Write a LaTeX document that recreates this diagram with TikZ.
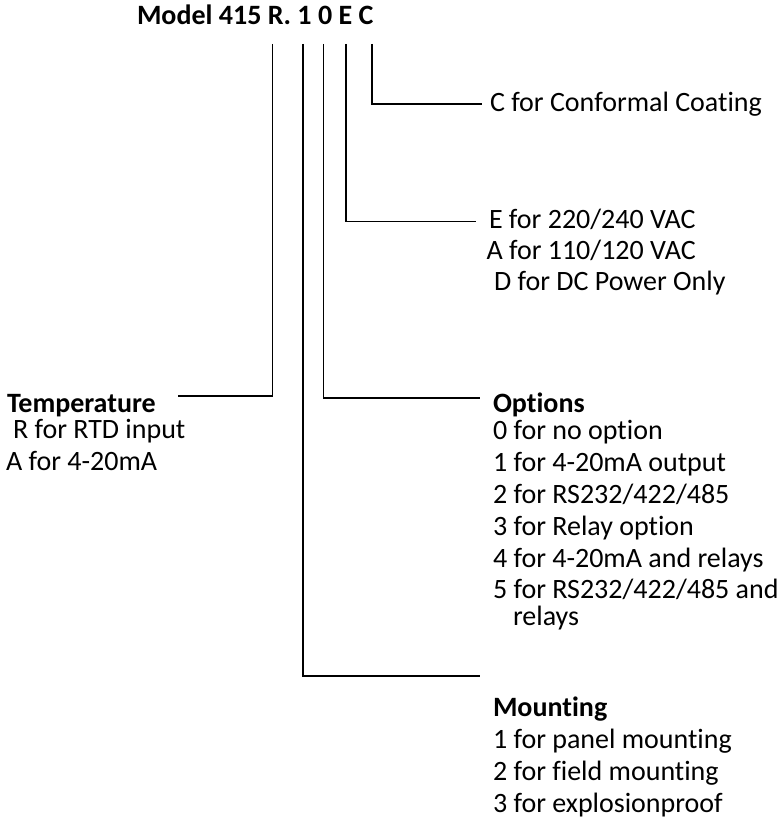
\documentclass[tikz,border=0pt]{standalone}
\usepackage{fontspec}
\setmainfont{Carlito}[Ligatures={NoCommon}]
\begin{document}
\begin{tikzpicture}[x=1pt,y=-1pt,
  txt/.style={anchor=base west,inner sep=0pt,outer sep=0pt,font=\fontsize{28}{32}\selectfont},
  hdr/.style={txt,font=\fontsize{28}{32}\selectfont\bfseries},
  conn/.style={line width=1.6pt,line join=miter}]
\useasboundingbox (0,0) rectangle (781,824);
% title
\node[hdr] (title) at (137,25) {Model 415 R. 1 0 E C};
% connector tops
\coordinate (cR) at (272.5,44);
\coordinate (c1) at (302.7,44);
\coordinate (c0) at (323.3,44);
\coordinate (cE) at (346,44);
\coordinate (cC) at (371.7,44);
% connector ends
\coordinate (eR) at (178,396);
\coordinate (e1) at (480,676);
\coordinate (e0) at (480,398);
\coordinate (eE) at (476,221.5);
\coordinate (eC) at (482,104);
\draw[conn] (cR) |- (eR);
\draw[conn] (c1) |- (e1);
\draw[conn] (c0) |- (e0);
\draw[conn] (cE) |- (eE);
\draw[conn] (cC) |- (eC);
% C
\node[txt] (tC) at (490,111.5) {C for Conformal Coating};
% E
\node[txt] (tE1) at (489,228) {E for 220/240 VAC};
\node[txt] (tE2) at (486.5,259) {A for 110/120 VAC};
\node[txt] (tE3) at (494,290) {D for DC Power Only};
% Temperature
\node[hdr] (tT0) at (7,412) {Temperature};
\node[txt] (tT1) at (13,438.5) {R for RTD input};
\node[txt] (tT2) at (6,470) {A for 4-20mA};
% Options
\node[hdr] (tO0) at (493,412) {Options};
\node[txt] (tO1) at (493,439) {0 for no option};
\node[txt] (tO2) at (493,471) {1 for 4-20mA output};
\node[txt] (tO3) at (493,503) {2 for RS232/422/485};
\node[txt] (tO4) at (493,535) {3 for Relay option};
\node[txt] (tO5) at (493,567) {4 for 4-20mA and relays};
\node[txt] (tO6) at (493,598) {5 for RS232/422/485 and};
\node[txt] (tO7) at (513,625) {relays};
% Mounting
\node[hdr] (tM0) at (493,716) {Mounting};
\node[txt] (tM1) at (493,748) {1 for panel mounting};
\node[txt] (tM2) at (493,780) {2 for field mounting};
\node[txt] (tM3) at (493,812) {3 for explosionproof};
\end{tikzpicture}
\end{document}
